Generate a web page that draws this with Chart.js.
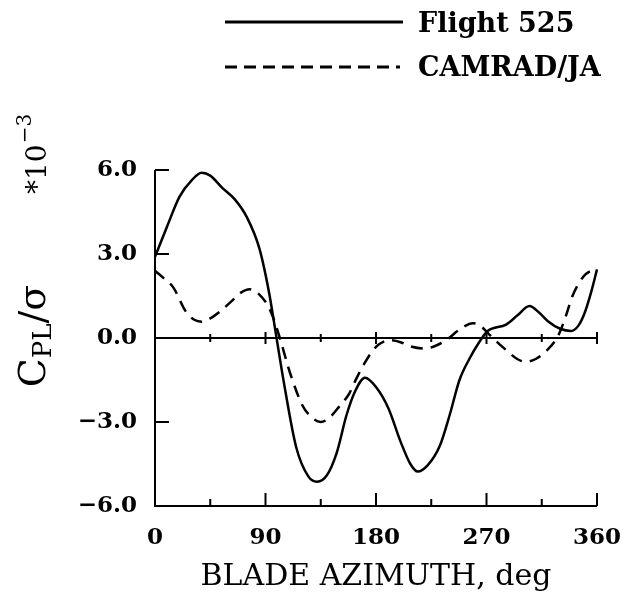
<!DOCTYPE html>
<html>
<head>
<meta charset="utf-8">
<script src="https://cdn.jsdelivr.net/npm/chart.js@4.4.0/dist/chart.umd.min.js"></script>
<style>
  html, body { margin: 0; padding: 0; background: #fff; }
  canvas { display: block; }
</style>
</head>
<body>
<canvas id="cplChart" width="626" height="597"></canvas>
<script>
// Flight 525 (measured)
const flightAz = [0, 10, 20, 30, 38, 45, 55, 65, 75, 85, 93, 99, 105, 115, 125, 132, 140, 148, 156, 163, 171, 180, 190, 200, 208, 214, 222, 232, 240, 248, 256, 264, 271, 286, 295, 305, 313, 320, 330, 339, 345, 350, 355, 360];
const flightCpl = [2.9, 4.0, 5.05, 5.64, 5.9, 5.8, 5.35, 4.95, 4.3, 3.2, 1.6, 0, -1.6, -3.9, -4.95, -5.13, -4.9, -4.1, -2.75, -1.9, -1.42, -1.75, -2.5, -3.7, -4.5, -4.77, -4.55, -3.85, -2.75, -1.5, -0.75, -0.15, 0.25, 0.48, 0.8, 1.14, 0.9, 0.6, 0.33, 0.25, 0.45, 0.9, 1.6, 2.45];

// CAMRAD/JA (calculated)
const camradAz = [0, 8, 15, 25, 32, 38, 45, 53, 62, 70, 77, 85, 92, 96, 102, 110, 120, 128, 135, 142, 150, 158, 164, 170, 180, 191, 200, 208, 220, 230, 238, 248, 259, 266, 271, 280, 286, 295, 302, 310, 319, 328, 334, 340, 349, 355, 360];
const camradCpl = [2.4, 2.1, 1.8, 0.95, 0.65, 0.58, 0.7, 0.95, 1.3, 1.62, 1.74, 1.55, 1.15, 0.76, -0.05, -1.25, -2.4, -2.85, -3.0, -2.85, -2.45, -2.0, -1.45, -0.95, -0.32, -0.08, -0.15, -0.3, -0.38, -0.25, -0.05, 0.3, 0.53, 0.4, 0.18, -0.2, -0.43, -0.75, -0.85, -0.75, -0.45, 0.05, 0.7, 1.5, 2.2, 2.4, 2.48];

const xMajorTicks = [0, 90, 180, 270, 360];
const xMinorTicks = [45, 135, 225, 315];
const yTicks = [-6, -3, 0, 3, 6];

const toPoints = (xs, ys) => xs.map((x, i) => ({ x: x, y: ys[i] }));

const SERIF = '"DejaVu Serif", "Liberation Serif", serif';

// axes, ticks, zero line, titles and legend drawn by hand
const framePlugin = {
  id: 'frame',
  beforeDatasetsDraw(chart) {
    const { ctx, scales } = chart;
    const xs = scales.x, ys = scales.y;
    const left = xs.getPixelForValue(0), right = xs.getPixelForValue(360);
    const top = ys.getPixelForValue(6), bottom = ys.getPixelForValue(-6);
    const zero = ys.getPixelForValue(0);
    ctx.save();
    ctx.strokeStyle = '#000';
    ctx.lineWidth = 2;
    ctx.lineCap = 'butt';
    ctx.beginPath();
    // left + bottom axis
    ctx.moveTo(left, top);
    ctx.lineTo(left, bottom);
    ctx.lineTo(right, bottom);
    // zero line
    ctx.moveTo(left, zero);
    ctx.lineTo(right, zero);
    // y ticks pointing in
    yTicks.forEach(v => {
      if (v === 0 || v === -6) return;
      const y = ys.getPixelForValue(v);
      ctx.moveTo(left, y);
      ctx.lineTo(left + 14, y);
    });
    // x ticks on bottom axis and zero line
    xMajorTicks.forEach(v => {
      if (v === 0) return;
      const x = xs.getPixelForValue(v);
      ctx.moveTo(x, bottom);
      ctx.lineTo(x, bottom - 13);
      ctx.moveTo(x, zero - 6);
      ctx.lineTo(x, zero + 6);
    });
    xMinorTicks.forEach(v => {
      const x = xs.getPixelForValue(v);
      ctx.moveTo(x, bottom);
      ctx.lineTo(x, bottom - 7);
      ctx.moveTo(x, zero - 4);
      ctx.lineTo(x, zero + 4);
    });
    ctx.stroke();
    ctx.restore();
  },
  afterDraw(chart) {
    const { ctx, scales } = chart;
    const xs = scales.x;
    ctx.save();
    ctx.fillStyle = '#000';
    ctx.strokeStyle = '#000';

    // x title
    ctx.font = '30px ' + SERIF;
    ctx.textAlign = 'center';
    ctx.textBaseline = 'alphabetic';
    ctx.fillText('BLADE AZIMUTH, deg', (xs.getPixelForValue(0) + xs.getPixelForValue(360)) / 2, 585);

    // y title C_PL/sigma, rotated
    ctx.save();
    ctx.translate(45, 336);
    ctx.rotate(-Math.PI / 2);
    ctx.textAlign = 'left';
    const big = '38px ' + SERIF, small = '26px ' + SERIF;
    ctx.font = big;
    const wC = ctx.measureText('C').width;
    const wSlash = ctx.measureText('/\u03c3').width;
    ctx.font = small;
    const wPL = ctx.measureText('PL').width;
    let x0 = -(wC + wPL + wSlash) / 2;
    ctx.font = big;
    ctx.fillText('C', x0, 0);
    ctx.font = small;
    ctx.fillText('PL', x0 + wC, 6);
    ctx.font = big;
    ctx.fillText('/\u03c3', x0 + wC + wPL, 0);
    ctx.restore();

    // *10^-3 multiplier
    ctx.save();
    ctx.translate(46, 194);
    ctx.rotate(-Math.PI / 2);
    ctx.textAlign = 'left';
    ctx.font = '28px ' + SERIF;
    ctx.fillText('*10', 0, 0);
    const w10 = ctx.measureText('*10').width;
    ctx.font = '20px ' + SERIF;
    ctx.fillText('\u22123', w10 + 1, -15);
    ctx.restore();

    // legend
    ctx.lineWidth = 3;
    ctx.beginPath();
    ctx.moveTo(225, 22);
    ctx.lineTo(403, 22);
    ctx.stroke();
    ctx.setLineDash([12, 7]);
    ctx.beginPath();
    ctx.moveTo(225, 67);
    ctx.lineTo(400, 67);
    ctx.stroke();
    ctx.setLineDash([]);
    ctx.font = 'bold 27px ' + SERIF;
    ctx.textAlign = 'left';
    ctx.textBaseline = 'alphabetic';
    ctx.fillText('Flight 525', 418, 32);
    ctx.fillText('CAMRAD/JA', 418, 76);
    ctx.restore();
  }
};

new Chart(document.getElementById('cplChart').getContext('2d'), {
  type: 'line',
  data: {
    datasets: [{
      label: 'Flight 525',
      data: toPoints(flightAz, flightCpl),
      borderColor: '#000',
      borderWidth: 2.5,
      pointRadius: 0,
      fill: false,
      cubicInterpolationMode: 'monotone',
      clip: false
    }, {
      label: 'CAMRAD/JA',
      data: toPoints(camradAz, camradCpl),
      borderColor: '#000',
      borderWidth: 2.5,
      borderDash: [12, 8],
      pointRadius: 0,
      fill: false,
      cubicInterpolationMode: 'monotone',
      clip: false
    }]
  },
  options: {
    responsive: false,
    devicePixelRatio: 1,
    animation: false,
    layout: { padding: { top: 170, right: 29, left: 0, bottom: 0 } },
    plugins: { legend: { display: false }, tooltip: { enabled: false } },
    scales: {
      x: {
        type: 'linear',
        min: 0,
        max: 360,
        // fixed box, no extra side padding for the end labels
        afterFit: s => { s.height = 91; s.paddingLeft = 0; s.paddingRight = 0; },
        afterBuildTicks: s => { s.ticks = xMajorTicks.map(v => ({ value: v })); },
        grid: { display: false, drawTicks: false },
        border: { display: false },
        ticks: { color: '#000', padding: 18, maxRotation: 0, font: { family: SERIF, size: 23, weight: 'bold' } }
      },
      y: {
        min: -6,
        max: 6,
        afterFit: s => { s.width = 155; s.paddingTop = 0; s.paddingBottom = 0; },
        afterBuildTicks: s => { s.ticks = yTicks.map(v => ({ value: v })); },
        grid: { display: false, drawTicks: false },
        border: { display: false },
        ticks: {
          color: '#000',
          padding: 18,
          font: { family: SERIF, size: 23, weight: 'bold' },
          callback: v => (v < 0 ? '\u2212' : '') + Math.abs(v).toFixed(1)
        }
      }
    }
  },
  plugins: [framePlugin]
});
</script>
</body>
</html>
